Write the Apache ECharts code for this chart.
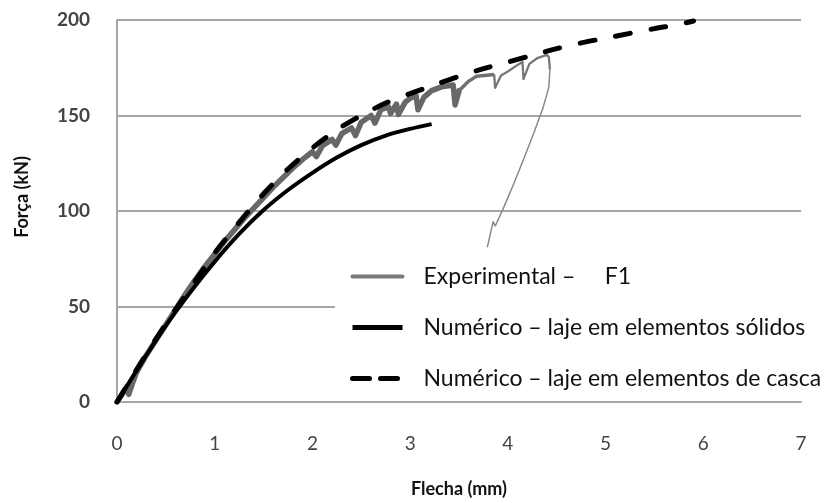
<!DOCTYPE html>
<html>
<head>
<meta charset="utf-8">
<script src="https://cdn.jsdelivr.net/npm/echarts@6/dist/echarts.min.js"></script>
<style>html,body{margin:0;padding:0;background:#fff}#c{width:830px;height:503px}</style>
</head>
<body>
<div id="c"></div>
<script>
// Tick labels
const xTicks = [0, 1, 2, 3, 4, 5, 6, 7];
const yTicks = [0, 50, 100, 150, 200];

// Experimental – F1 (deflection mm, force kN)
const expMain = [[0,0],[0.08,6],[0.1,8],[0.12,4],[0.16,10],[0.2,15.5],[0.3,24.5],[0.4,32.5],[0.5,40.5],[0.6,48.5],[0.7,56.5],[0.8,64],[0.9,71],[1.0,77.5],[1.1,84],[1.2,90],[1.3,96],[1.4,101.5],[1.5,107],[1.6,112.5],[1.7,117.5],[1.8,122.5],[1.9,127],[2.0,131],[2.04,128.5],[2.1,134],[2.2,137.5],[2.24,134.5],[2.3,140.5],[2.4,143.5],[2.44,139.5],[2.5,146.5],[2.6,150],[2.64,146],[2.7,153],[2.78,154.5],[2.8,151],[2.86,156],[2.88,150.5],[2.9,151],[2.95,157],[3.0,159],[3.06,160.5],[3.08,153],[3.1,152.5],[3.14,159.5],[3.22,163],[3.32,165],[3.44,166],[3.46,155.5],[3.48,156],[3.5,163]];
const expMid = [[3.5,163],[3.6,168],[3.68,170.5],[3.86,171.5]];
const expTail = [[3.86,171.5],[3.87,164.5],[3.89,164.5],[3.93,171],[4.0,173],[4.1,176.5],[4.15,178],[4.16,169],[4.18,169],[4.22,177],[4.3,180],[4.4,181.7],[4.42,180.5],[4.43,174]];
const expUnload = [[4.43,174],[4.42,165],[4.36,154],[4.26,140],[4.16,127],[4.05,113],[3.95,101],[3.87,92],[3.85,94.5],[3.83,90],[3.79,81]];

// Numérico – laje em elementos sólidos
const solid = [[0,0],[0.25,20.5],[0.5,40],[0.75,57.5],[1.0,73.5],[1.25,88],[1.5,100.5],[1.75,111],[2.0,120],[2.25,128],[2.5,134.5],[2.75,139.5],[3.0,143],[3.22,145.5]];

// Numérico – laje em elementos de casca
const shell = [[0,0],[0.25,21],[0.5,41],[0.75,59.5],[1.0,78],[1.25,94],[1.5,109],[1.75,122],[2.0,133],[2.25,142.5],[2.5,150],[2.75,156.5],[3.0,161.5],[3.25,166],[3.5,170.5],[3.75,174.5],[4.0,178],[4.25,181.5],[4.5,185],[4.75,188],[5.0,190.5],[5.25,193],[5.5,195.5],[5.75,197.7],[5.9,199.5]];

const names = ['Experimental –     F1', 'Numérico – laje em elementos sólidos', 'Numérico – laje em elementos de casca'];
const hiddenSymbol = {color: 'rgba(0,0,0,0)', borderWidth: 0, opacity: 0};
const noSym = {showSymbol: false, symbol: 'none', type: 'line'};

const chart = echarts.init(document.getElementById('c'), null, {renderer: 'canvas'});
chart.setOption({
  animation: false,
  backgroundColor: '#ffffff',
  grid: {left: 117, right: 29, top: 20, bottom: 100, containLabel: false},
  xAxis: {
    type: 'value', min: xTicks[0], max: xTicks[xTicks.length - 1], interval: 1,
    name: 'Flecha (mm)', nameLocation: 'middle', nameGap: 78,
    nameTextStyle: {fontFamily: 'Lato', fontWeight: 'bold', fontSize: 18, color: '#111'},
    axisLine: {show: true, lineStyle: {color: '#a6a6a6', width: 2}},
    axisTick: {show: false},
    splitLine: {show: false},
    axisLabel: {margin: 32, fontFamily: 'Lato', fontSize: 19, color: '#444'}
  },
  yAxis: {
    type: 'value', min: yTicks[0], max: yTicks[yTicks.length - 1], interval: 50,
    name: 'Força (kN)', nameLocation: 'middle', nameGap: 86,
    nameTextStyle: {fontFamily: 'Lato', fontWeight: 'bold', fontSize: 18, color: '#111', padding: [0, 0, 0, 28]},
    axisLine: {show: true, lineStyle: {color: '#a6a6a6', width: 2}},
    axisTick: {show: false},
    splitLine: {show: true, lineStyle: {color: '#a6a6a6', width: 2}},
    axisLabel: {margin: 27, fontFamily: 'Lato', fontWeight: 'bold', fontSize: 19, color: '#444'}
  },
  legend: {
    orient: 'vertical', left: 335, top: 255, padding: [10, 4, 4, 15],
    backgroundColor: '#ffffff', itemWidth: 50, itemHeight: 14, itemGap: 28,
    itemStyle: hiddenSymbol,
    textStyle: {fontFamily: 'Lato', fontSize: 23, color: '#111', lineHeight: 22, padding: [0, 0, 0, 16]},
    data: [
      {name: names[0], itemStyle: hiddenSymbol, lineStyle: {color: '#7a7a7a', width: 4}},
      {name: names[1], itemStyle: hiddenSymbol, lineStyle: {color: '#000', width: 5}},
      {name: names[2], itemStyle: hiddenSymbol, lineStyle: {color: '#000', width: 5, type: [17, 11], cap: 'round'}}
    ]
  },
  series: [
    Object.assign({name: names[0], data: expMain, lineStyle: {color: '#686868', width: 5.5, join: 'round', cap: 'round'}, itemStyle: {color: '#7a7a7a'}, z: 2}, noSym),
    Object.assign({name: 'Experimental (b)', data: expMid, lineStyle: {color: '#707070', width: 3.5, join: 'round'}, itemStyle: {color: '#707070'}, z: 2}, noSym),
    Object.assign({name: 'Experimental (c)', data: expTail, lineStyle: {color: '#777', width: 2.3, join: 'round'}, itemStyle: {color: '#777'}, z: 2}, noSym),
    Object.assign({name: 'Experimental (descarga)', data: expUnload, lineStyle: {color: '#8a8a8a', width: 1.5}, itemStyle: {color: '#8a8a8a'}, z: 2}, noSym),
    Object.assign({name: names[1], data: solid, smooth: 0.3, lineStyle: {color: '#000', width: 4}, itemStyle: {color: '#000'}, z: 3}, noSym),
    Object.assign({name: names[2], data: shell, smooth: 0.3, lineStyle: {color: '#000', width: 5, type: [15, 21], cap: 'round'}, itemStyle: {color: '#000'}, z: 4}, noSym)
  ]
});
</script>
</body>
</html>
